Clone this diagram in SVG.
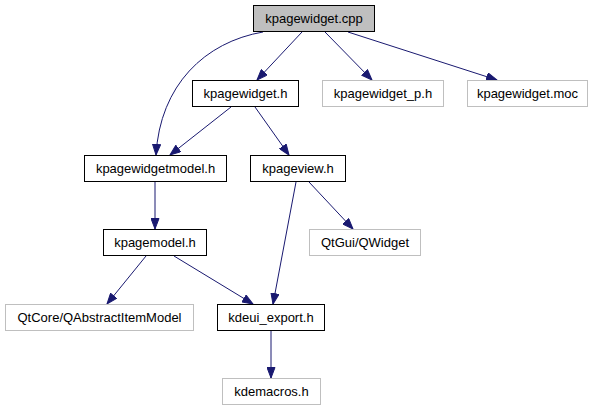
<svg xmlns="http://www.w3.org/2000/svg" width="597" height="411" viewBox="0 0 597 411">
<style>
.n rect{fill:#fff;stroke:#000;stroke-width:1}
.n.g rect{stroke:#bfbfbf}
.n.root rect{fill:#bfbfbf}
.n text{font-family:"Liberation Sans",Arial,sans-serif;font-size:13px;fill:#000;text-anchor:middle}
#edges path{fill:none;stroke:#191970;stroke-width:1;marker-end:url(#ah)}
</style>
<defs>
<marker id="ah" markerUnits="userSpaceOnUse" markerWidth="12" markerHeight="9" refX="11" refY="4.5" orient="auto">
<path d="M0.5,0.5 L11,4.5 L0.5,8.5 z" fill="#191970" stroke="#191970" stroke-width="1"/>
</marker>
</defs>
<rect width="597" height="411" fill="#fff"/>
<g id="edges">
<path d="M302,32 L257,80"/>
<path d="M325,32 L372,80"/>
<path d="M348,32 L497,80"/>
<path d="M263,32 C205,42 160,85 156,155"/>
<path d="M231,107 L170,155"/>
<path d="M255,107 L289,155"/>
<path d="M155,182 L155,229"/>
<path d="M309,182 L353,229"/>
<path d="M296,182 L273,304"/>
<path d="M146,256 L107,304"/>
<path d="M174,256 L253,304"/>
<path d="M271,331 L271,378"/>
</g>
<g id="kpagewidget_cpp" class="n root"><rect x="253.5" y="5.5" width="121" height="26"/><text x="314" y="23">kpagewidget.cpp</text></g>
<g id="kpagewidget_h" class="n"><rect x="192.5" y="80.5" width="106" height="26"/><text x="245.5" y="98">kpagewidget.h</text></g>
<g id="kpagewidget_p_h" class="n g"><rect x="322.5" y="80.5" width="121" height="26"/><text x="383" y="98">kpagewidget_p.h</text></g>
<g id="kpagewidget_moc" class="n g"><rect x="467.5" y="80.5" width="120" height="26"/><text x="527.5" y="98">kpagewidget.moc</text></g>
<g id="kpagewidgetmodel_h" class="n"><rect x="84.5" y="155.5" width="142" height="26"/><text x="155.5" y="173">kpagewidgetmodel.h</text></g>
<g id="kpageview_h" class="n"><rect x="250.5" y="155.5" width="95" height="26"/><text x="298" y="173">kpageview.h</text></g>
<g id="kpagemodel_h" class="n"><rect x="103.5" y="229.5" width="103" height="26"/><text x="155" y="247">kpagemodel.h</text></g>
<g id="qwidget" class="n g"><rect x="309.5" y="229.5" width="111" height="26"/><text x="365" y="247">QtGui/QWidget</text></g>
<g id="qabstractitemmodel" class="n g"><rect x="5.5" y="304.5" width="188" height="26"/><text x="99.5" y="322">QtCore/QAbstractItemModel</text></g>
<g id="kdeui_export_h" class="n"><rect x="217.5" y="304.5" width="107" height="26"/><text x="271" y="322">kdeui_export.h</text></g>
<g id="kdemacros_h" class="n g"><rect x="222.5" y="378.5" width="98" height="26"/><text x="271.5" y="396">kdemacros.h</text></g>
</svg>
